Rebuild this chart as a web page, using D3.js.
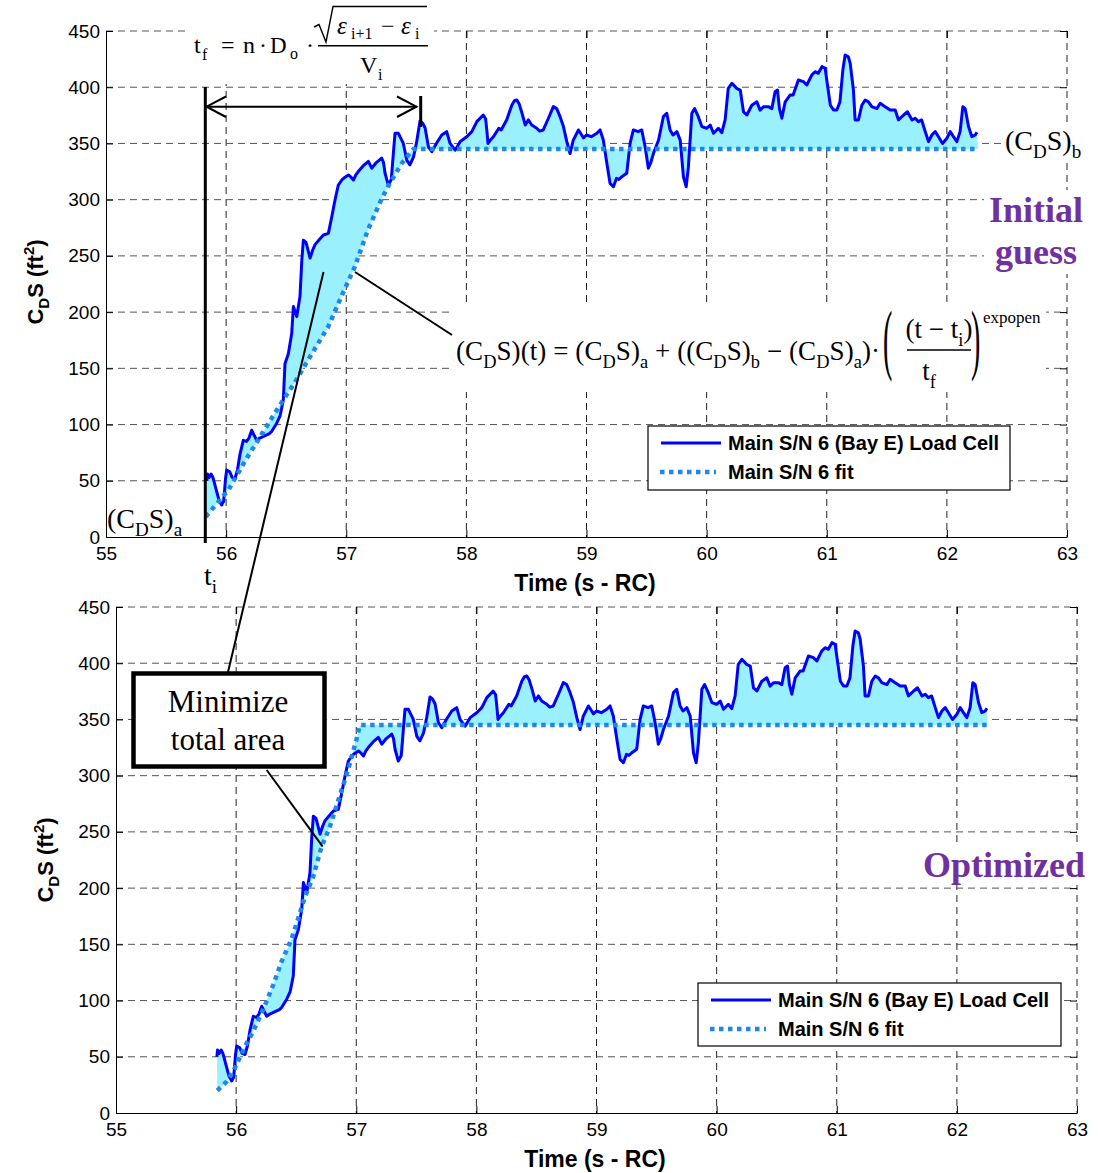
<!DOCTYPE html>
<html><head><meta charset="utf-8">
<script src="https://cdn.jsdelivr.net/npm/d3@7"></script>
<style>body{margin:0;background:#fff} svg{display:block}</style>
</head><body>
<svg id="c" width="1098" height="1173"></svg>
<script>
// ---------- DATA ----------
const time = [55.84,55.845,55.86,55.875,55.89,55.91,55.94,55.963,55.98,55.995,56.005,56.03,56.05,56.074,56.095,56.116,56.143,56.17,56.19,56.213,56.235,56.255,56.28,56.32,56.36,56.38,56.42,56.45,56.476,56.49,56.518,56.546,56.56,56.588,56.615,56.63,56.643,56.665,56.699,56.72,56.74,56.78,56.81,56.851,56.88,56.907,56.934,56.963,56.99,57.018,57.04,57.06,57.08,57.1,57.14,57.184,57.212,57.25,57.295,57.31,57.323,57.35,57.375,57.395,57.406,57.434,57.475,57.504,57.53,57.56,57.587,57.614,57.636,57.656,57.684,57.712,57.75,57.795,57.836,57.864,57.906,57.948,58.003,58.045,58.087,58.14,58.16,58.17,58.18,58.2,58.225,58.27,58.29,58.336,58.378,58.4,58.42,58.44,58.46,58.49,58.516,58.544,58.586,58.61,58.64,58.683,58.724,58.752,58.78,58.808,58.836,58.863,58.89,58.933,58.96,58.975,59.0,59.04,59.086,59.113,59.14,59.17,59.196,59.224,59.25,59.27,59.294,59.335,59.363,59.39,59.43,59.46,59.488,59.515,59.535,59.557,59.6,59.64,59.668,59.696,59.72,59.752,59.78,59.807,59.83,59.848,59.877,59.9,59.93,59.96,60.0,60.03,60.057,60.098,60.126,60.154,60.18,60.21,60.25,60.28,60.307,60.335,60.376,60.418,60.445,60.473,60.514,60.543,60.57,60.59,60.606,60.626,60.654,60.695,60.72,60.764,60.806,60.834,60.876,60.903,60.93,60.96,60.987,61.0,61.03,61.056,61.084,61.11,61.134,61.153,61.18,61.195,61.222,61.236,61.264,61.292,61.32,61.347,61.375,61.417,61.445,61.486,61.528,61.57,61.597,61.64,61.672,61.71,61.736,61.763,61.79,61.82,61.847,61.875,61.903,61.93,61.964,62.0,62.028,62.055,62.083,62.11,62.133,62.152,62.18,62.208,62.236,62.25];
const cds = [50,56,53,56,53,45,33,28.5,32,52,59.6,58,53,52,60,74,86,85,88,95,90,86,88,90,92,94,101,108,122,154,163,181,205,196,214,246,264,262,248,255,260,265,268.6,270,285,300,313,317.5,320,322,320,317.5,322,325,330,334,328,333,337,333,323.5,313,318,345,359,359,350,335,331,338,352,370,368,364,347,342.7,350,357.5,360.5,350,344,351.6,356,360.5,369.4,375.3,372,362,350,353,356,363.5,362,371,384,388,388.6,385,378,366.4,370.9,366.4,363.5,361,362,372.4,382.7,381,373.8,365,351.6,341,353,362,357.5,355,357.5,356,359,362,353,332,314.5,311.5,319,318,320.4,323.5,350,362,360.5,362,347,328,333,341,353,373.8,376.8,362,357.5,360.5,353,320.4,311.5,329,376.8,381,374,365,363.5,366.4,359,363.5,359.6,370.9,399,403.5,399,397.5,378,375.3,384,387,379.6,382.7,382.7,381,396,397.5,381,372.4,387,393,393,406.4,405,402,411,413.8,412.4,418.3,416.8,406.4,384,379.8,379.8,387,415.3,428.7,427,421.3,397.5,370.9,370.9,384,388.6,387,382.7,381,385.7,382.7,379.8,379.8,370.9,375.3,378.2,370.9,372.4,369.4,370.9,360.5,351.6,357.5,360.5,356,350,354.6,360.5,356,351.6,360.5,382.7,381,365,356,357.5,360];
// initial-guess fit
const fitInitT = [55.83,56.02,56.16,56.30,56.44,56.57,56.68,56.85,56.96,57.07,57.18,57.30,57.36,57.46,57.56,62.26];
const fitInitV = [18,42,68,92,116,137,157,187,214,240,273,302,314,332,345,345];
// optimized fit
const fitOptT = [55.843,55.921,55.976,56.087,56.142,56.225,56.309,56.378,56.462,56.517,56.572,56.641,56.711,56.78,56.85,56.905,56.947,57.0,57.03,62.25];
const fitOptV = [20,28,37,62,72.5,92,114,134.6,155,173,192,210,236.7,254.5,278,296,311,331.5,345,345];
const xTicks = [55,56,57,58,59,60,61,62,63];
const yTicks = [0,50,100,150,200,250,300,350,400,450];
const seriesNames = ["Main S/N 6 (Bay E) Load Cell","Main S/N 6 fit"];
const xTitle = "Time (s - RC)";

// ---------- STYLE ----------
const SANS = "'Liberation Sans', Arial, sans-serif";
const SERIF = "'Liberation Serif', 'Times New Roman', serif";
const C_LINE = "#0000ff", C_FIT = "#1e88e8", C_FILL = "#9af1fd", C_PURPLE = "#7030a0";

const svg = d3.select("#c");

function rich(parent, x, y, size, segs, opts = {}) {
  const t = parent.append("text").attr("x", x).attr("y", y)
    .attr("font-family", opts.family || SERIF).attr("font-size", size)
    .attr("fill", opts.fill || "#000").attr("font-weight", opts.weight || "normal");
  if (opts.anchor) t.attr("text-anchor", opts.anchor);
  if (opts.transform) t.attr("transform", opts.transform);
  let cur = 0;
  segs.forEach(([s, k, it]) => {
    let off = 0, fs = size;
    if (k === "sub") { off = size * 0.28; fs = size * 0.68; }
    if (k === "sup") { off = -size * 0.42; fs = size * 0.68; }
    const sp = t.append("tspan").attr("dy", off - cur).attr("font-size", fs).text(s);
    if (it) sp.attr("font-style", "italic");
    cur = off;
  });
  return t;
}

function panel(f, fitT, fitV, leg, ylab) {
  const x = d3.scaleLinear().domain([55, 63]).range([f.l, f.r]);
  const y = d3.scaleLinear().domain([0, 450]).range([f.b, f.t]);
  const g = svg.append("g");

  g.selectAll(".vg").data(xTicks.slice(1)).join("line").attr("class", "vg")
    .attr("x1", d => x(d)).attr("x2", d => x(d)).attr("y1", f.t).attr("y2", f.b)
    .attr("stroke", "#222").attr("stroke-width", 1).attr("stroke-dasharray", "7,5");
  g.selectAll(".hg").data(yTicks.slice(1)).join("line").attr("class", "hg")
    .attr("y1", d => y(d)).attr("y2", d => y(d)).attr("x1", f.l).attr("x2", f.r)
    .attr("stroke", "#555").attr("stroke-width", 1).attr("stroke-dasharray", "7,5");

  const meas = time.map((t, i) => [x(t), y(cds[i])]);
  const fitPts = fitT.map((t, i) => [x(t), y(fitV[i])]);
  const ln = d3.line();
  g.append("path").attr("d", ln(meas.concat(fitPts.slice().reverse())) + "Z")
    .attr("fill", C_FILL).attr("stroke", "none");
  g.append("path").attr("d", ln(meas)).attr("fill", "none").attr("stroke", C_LINE)
    .attr("stroke-width", 3).attr("stroke-linejoin", "round");
  g.append("path").attr("d", ln(fitPts)).attr("fill", "none").attr("stroke", C_FIT)
    .attr("stroke-width", 4.5).attr("stroke-dasharray", "4.5,4.5");

  const styleAxis = a => {
    a.selectAll("text").attr("font-family", SANS).attr("font-size", 19).attr("fill", "#000");
    a.selectAll("line").attr("stroke", "#000");
    a.select(".domain").attr("stroke", "#000");
  };
  const ax = g.append("g").attr("transform", `translate(0,${f.b})`)
    .call(d3.axisBottom(x).tickValues(xTicks).tickSizeInner(-7).tickSizeOuter(0).tickPadding(9.5));
  styleAxis(ax);
  const ay = g.append("g").attr("transform", `translate(${f.l},0)`)
    .call(d3.axisLeft(y).tickValues(yTicks).tickSizeInner(-7).tickSizeOuter(0).tickPadding(6));
  styleAxis(ay);
  const ar = g.append("g").attr("transform", `translate(${f.r},0)`)
    .call(d3.axisRight(y).tickValues(yTicks).tickSizeInner(-7).tickSizeOuter(0).tickFormat(() => ""));
  ar.select(".domain").remove(); ar.selectAll("line").attr("stroke", "#000");
  const at = g.append("g").attr("transform", `translate(0,${f.t})`)
    .call(d3.axisTop(x).tickValues(xTicks).tickSizeInner(-7).tickSizeOuter(0).tickFormat(() => ""));
  at.select(".domain").remove(); at.selectAll("line").attr("stroke", "#000");

  // axis titles
  g.append("text").attr("x", f.xt[0]).attr("y", f.xt[1]).attr("text-anchor", "middle")
    .attr("font-family", SANS).attr("font-weight", "bold").attr("font-size", 23).text(xTitle);
  rich(g, 0, 0, 22, [["C", "n"], ["D", "sub"], ["S (ft", "n"], ["2", "sup"], [")", "n"]],
    { family: SANS, weight: "bold", anchor: "middle", transform: `translate(${ylab[0]},${ylab[1]}) rotate(-90)` });

  // legend
  g.append("rect").attr("x", leg.x).attr("y", leg.y).attr("width", leg.w).attr("height", leg.h)
    .attr("fill", "#fff").attr("stroke", "#000").attr("stroke-width", 1.2);
  g.append("line").attr("x1", leg.x + 13).attr("x2", leg.x + 73).attr("y1", leg.y + 17).attr("y2", leg.y + 17)
    .attr("stroke", C_LINE).attr("stroke-width", 2.8);
  g.append("line").attr("x1", leg.x + 12).attr("x2", leg.x + 68).attr("y1", leg.y + 46).attr("y2", leg.y + 46)
    .attr("stroke", C_FIT).attr("stroke-width", 4.5).attr("stroke-dasharray", "4.5,4.5");
  seriesNames.forEach((s, i) => {
    g.append("text").attr("x", leg.x + 80).attr("y", leg.y + 24 + i * 29)
      .attr("font-family", SANS).attr("font-weight", "bold").attr("font-size", 20).text(s);
  });
  return { x, y };
}

const frameTop = { l: 106, r: 1067, t: 31, b: 537, xt: [585, 591] };
const frameBot = { l: 116, r: 1077, t: 607, b: 1113, xt: [595, 1167] };
panel(frameTop, fitInitT, fitInitV, { x: 648, y: 426, w: 362, h: 64 }, [43, 282]);
panel(frameBot, fitOptT, fitOptV, { x: 698, y: 983, w: 363, h: 63 }, [53, 860]);

// ---------- ANNOTATIONS ----------
const an = svg.append("g");
const L = (x1, y1, x2, y2, w) => an.append("line").attr("x1", x1).attr("y1", y1).attr("x2", x2).attr("y2", y2)
  .attr("stroke", "#000").attr("stroke-width", w || 2);
const W = (x, y, w, h) => an.append("rect").attr("x", x).attr("y", y).attr("width", w).attr("height", h).attr("fill", "#fff");
const T = (x, y, size, s, opts = {}) => {
  const t = an.append("text").attr("x", x).attr("y", y).attr("font-family", opts.family || SERIF)
    .attr("font-size", size).attr("fill", opts.fill || "#000").text(s);
  if (opts.italic) t.attr("font-style", "italic");
  if (opts.anchor) t.attr("text-anchor", opts.anchor);
  if (opts.weight) t.attr("font-weight", opts.weight);
  return t;
};

// white backgrounds behind text annotations
W(188, 0, 246, 84);
W(452, 304, 594, 88);
W(1001, 124, 92, 38);
W(984, 190, 106, 84);
W(916, 843, 178, 42);

// t_i vertical, arrow, tick
L(205.3, 87, 205.3, 543, 3);
L(205.3, 106.7, 417, 106.7, 2);
an.append("path").attr("d", "M226,96.5 L206.5,106.7 L226,117").attr("fill", "none").attr("stroke", "#000").attr("stroke-width", 2);
an.append("path").attr("d", "M397,96.5 L416.5,106.7 L397,117").attr("fill", "none").attr("stroke", "#000").attr("stroke-width", 2);
L(420.7, 96, 420.7, 127, 3);

// tf formula (pieces placed like the original equation editor layout)
T(194, 53, 24, "t"); T(202, 60, 16, "f");
T(221, 53, 24, "=");
T(243, 53, 24, "n");
T(259, 53, 24, "·");
T(270, 53, 23, "D"); T(290, 59, 16, "o");
T(306, 53, 24, "·");
an.append("path").attr("d", "M314,27 L319,24.5 L326,42 L333,6.5 L427,6.5").attr("fill", "none").attr("stroke", "#000").attr("stroke-width", 1.4);
T(337, 34, 25, "ε", { italic: true }); T(351, 39, 16, "i+1");
T(381, 34, 24, "−");
T(401, 34, 25, "ε", { italic: true }); T(415, 39, 16, "i");
L(318, 45.7, 428, 45.7, 1.4);
T(360, 73, 24, "V"); T(378, 80, 16, "i");

// (CDS)a, (CDS)b, ti
rich(an, 107, 528, 28, [["(C", "n"], ["D", "sub"], ["S)", "n"], ["a", "sub"]]);
rich(an, 1005, 150, 28, [["(C", "n"], ["D", "sub"], ["S)", "n"], ["b", "sub"]]);
rich(an, 204, 585, 28, [["t", "n"], ["i", "sub"]]);

// Big formula
L(355, 272, 452, 335, 2);
const bf = rich(an, 456, 360, 27, [["(C", "n"], ["D", "sub"], ["S)(t) = (C", "n"], ["D", "sub"], ["S)", "n"], ["a", "sub"],
  [" + ((C", "n"], ["D", "sub"], ["S)", "n"], ["b", "sub"], [" − (C", "n"], ["D", "sub"], ["S)", "n"], ["a", "sub"], [")·", "n"]]);
bf.attr("textLength", 424).attr("lengthAdjust", "spacing");
an.append("text").attr("transform", "translate(883,365) scale(1,2.8)").attr("font-family", SERIF).attr("font-size", 28).text("(");
an.append("text").attr("transform", "translate(971,365) scale(1,2.8)").attr("font-family", SERIF).attr("font-size", 28).text(")");
rich(an, 939, 338, 27, [["(t − t", "n"], ["i", "sub"], [")", "n"]], { anchor: "middle" });
L(907, 350, 971, 350, 1.3);
rich(an, 929, 380, 27, [["t", "n"], ["f", "sub"]], { anchor: "middle" });
T(983, 323, 17, "expopen");

// Initial guess / Optimized
[["Initial", 222], ["guess", 264]].forEach(([s, yy]) =>
  T(1036, yy, 36, s, { anchor: "middle", weight: "bold", fill: C_PURPLE }));
T(1004, 877, 36, "Optimized", { anchor: "middle", weight: "bold", fill: C_PURPLE });

// Minimize total area
L(323.5, 272, 228, 672, 2);
L(266.7, 770, 322.7, 846.7, 2);
an.append("rect").attr("x", 133.5).attr("y", 673.5).attr("width", 191).attr("height", 93)
  .attr("fill", "#fff").attr("stroke", "#000").attr("stroke-width", 4.5);
[["Minimize", 712], ["total area", 750]].forEach(([s, yy]) => T(228, yy, 31, s, { anchor: "middle" }));
</script>
</body></html>
